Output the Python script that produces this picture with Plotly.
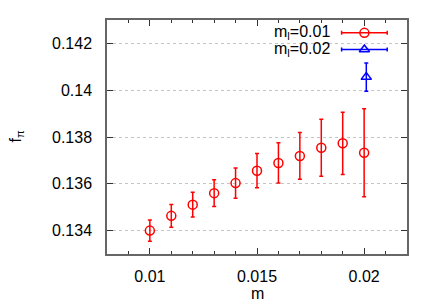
import plotly.graph_objects as go

# data
m_light01 = [0.010, 0.011, 0.012, 0.013, 0.014, 0.015, 0.016, 0.017, 0.018, 0.019, 0.020]
fpi_light01 = [0.13400, 0.13463, 0.13511, 0.13560, 0.13603, 0.13656, 0.13689, 0.13719, 0.13754, 0.13773, 0.13733]
err_light01 = [0.00045, 0.00049, 0.00053, 0.00057, 0.00065, 0.00073, 0.00086, 0.00100, 0.00122, 0.00133, 0.00188]

m_light02 = [0.0201]
fpi_light02 = [0.14056]
err_light02 = [0.00060]

labels = ["m<sub>l</sub>=0.01", "m<sub>l</sub>=0.02"]
colors = ["#ff0000", "#0000ff"]
symbols = ["circle-open", "triangle-up-open"]
x_title = "m"
y_title = "f<sub>π</sub>"

font = "Liberation Sans, Arial, sans-serif"

fig = go.Figure()
fig.add_trace(go.Scatter(
    x=m_light01, y=fpi_light01, mode="markers",
    marker=dict(symbol=symbols[0], size=9, color=colors[0], line=dict(width=1.5, color=colors[0])),
    error_y=dict(type="data", array=err_light01, color=colors[0], thickness=1.5, width=2),
    showlegend=False))
fig.add_trace(go.Scatter(
    x=m_light02, y=fpi_light02, mode="markers",
    marker=dict(symbol=symbols[1], size=9, color=colors[1], line=dict(width=1.5, color=colors[1])),
    error_y=dict(type="data", array=err_light02, color=colors[1], thickness=1.5, width=2),
    showlegend=False))

# custom legend (gnuplot-style key) on an overlay axis in [0,1]
key_x = 0.858
key_half = 0.076
key_rows = [0.945, 0.874]
for i in range(2):
    fig.add_trace(go.Scatter(
        x=[key_x], y=[key_rows[i]], mode="markers", xaxis="x2", yaxis="y2",
        marker=dict(symbol=symbols[i], size=9, color=colors[i], line=dict(width=1.5, color=colors[i])),
        error_x=dict(type="data", array=[key_half], color=colors[i], thickness=1.5, width=2),
        showlegend=False, hoverinfo="skip"))
    fig.add_annotation(x=0.749, y=key_rows[i], xref="paper", yref="paper",
                       text=labels[i], showarrow=False, xanchor="right", yanchor="middle",
                       font=dict(family=font, size=16, color="black"))

# axis titles as annotations (precise placement)
fig.add_annotation(x=0.5, y=-0.167, xref="paper", yref="paper", text=x_title, showarrow=False,
                   xanchor="center", yanchor="middle", font=dict(family=font, size=16, color="black"))
fig.add_annotation(x=-0.305, y=0.5, xref="paper", yref="paper", text=y_title, showarrow=False,
                   textangle=-90, xanchor="center", yanchor="middle",
                   font=dict(family=font, size=16, color="black"))

# page body has an 8px margin, so the figure is sized/margined to compensate
fig.update_layout(
    width=420, height=297,
    margin=dict(l=99, r=21, t=12, b=51, autoexpand=False),
    plot_bgcolor="white", paper_bgcolor="white",
    font=dict(family=font, size=16, color="black"),
    showlegend=False,
    xaxis=dict(range=[0.008, 0.022], tickvals=[0.01, 0.015, 0.02], ticktext=["0.01", "0.015", "0.02"],
               ticks="inside", ticklen=6, tickcolor="#333", showgrid=False, zeroline=False,
               showline=True, linecolor="#666", linewidth=1.5, mirror="ticks", automargin=False,
               minor=dict(dtick=0.001, tick0=0.01, ticks="inside", ticklen=3, tickcolor="#333"),
               ticklabelstandoff=7),
    yaxis=dict(range=[0.133, 0.143], tickvals=[0.134, 0.136, 0.138, 0.14, 0.142],
               ticktext=["0.134", "0.136", "0.138", "0.14", "0.142"],
               ticks="inside", ticklen=6, tickcolor="#333", showgrid=True, gridcolor="#c4c4c4",
               griddash="dot", gridwidth=1, zeroline=False, automargin=False,
               showline=True, linecolor="#666", linewidth=1.5, mirror="ticks",
               ticklabelstandoff=10),
    xaxis2=dict(range=[0, 1], overlaying="x", visible=False, anchor="y2"),
    yaxis2=dict(range=[0, 1], overlaying="y", visible=False, anchor="x2"),
)

fig.write_html("out.html")
